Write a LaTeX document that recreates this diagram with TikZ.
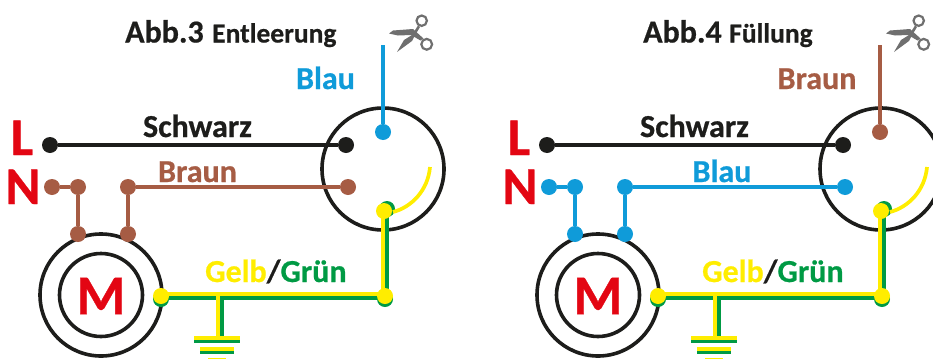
\documentclass[tikz,border=0pt]{standalone}
\usepackage{fontspec}
\setmainfont[BoldFeatures={FakeBold=0.6}]{Carlito}
\definecolor{schwarz}{HTML}{1D1D1B}
\definecolor{rot}{HTML}{E30613}
\definecolor{blau}{HTML}{0F9BD9}
\definecolor{braun}{HTML}{A65C44}
\definecolor{gelb}{HTML}{FFED00}
\definecolor{gruen}{HTML}{009A44}
\definecolor{grau}{HTML}{6F6F6F}
\tikzset{
  kreis/.style={circle,draw=schwarz,line width=3.6pt,inner sep=0pt,minimum size=#1},
  dot/.style={circle,fill=#1,inner sep=0pt,minimum size=16pt},
  wire/.style={draw=#1,line width=3.6pt},
  gg/.style={line width=3.7pt},
  lab/.style={font=\bfseries\fontsize{32}{32}\selectfont,text=#1,inner sep=0pt,anchor=base},
  pol/.style={font=\bfseries\fontsize{53}{53}\selectfont,text=rot,inner sep=0pt,anchor=base},
  ttl/.style={font=\bfseries\fontsize{32}{32}\selectfont,text=schwarz,inner sep=0pt,anchor=base west},
  sub/.style={font=\bfseries\fontsize{27.5}{27.5}\selectfont,text=schwarz,inner sep=0pt,anchor=base west}
}
\newcommand{\schaltung}[2]{%
  \node[kreis=122pt] (sw) at (#2,169) {};
  \node[kreis=122pt] (mot) at (101,295) {};
  \node[kreis=83pt] (rotor) at (101,295) {};
  \node[font=\bfseries\fontsize{56}{56}\selectfont,text=rot,inner sep=0pt] (m) at (101,296) {M};
  \node[pol] (L) at (22,155) {L};
  \node[pol] (N) at (23,204) {N};
  % Schwarz
  \node[dot=schwarz] (s1) at (50,145) {};
  \node[dot=schwarz] (s2) at (346,145) {};
  \draw[wire=schwarz] (s1) -- (s2);
  \node[lab=schwarz] (ls) at (197.5,137) {Schwarz};
  % N wires
  \node[dot=#1] (n1) at (52,187) {};
  \node[dot=#1] (n2) at (78,187) {};
  \node[dot=#1] (n3) at (78,234) {};
  \node[dot=#1] (n4) at (128,187) {};
  \node[dot=#1] (n5) at (128,234) {};
  \node[dot=#1] (n6) at (348,187) {};
  \draw[wire=#1] (n1) -- (n2) -- (n3);
  \draw[wire=#1] (n5) -- (n4) -- (n6);
  % Gelb/Gruen
  \coordinate (ma) at (161,296);
  \coordinate (ra) at (385,296);
  \coordinate (ob) at (385,209);
  \coordinate (ea) at (220,296);
  \coordinate (eb) at (220,336);
  \coordinate (ab) at (430,167);
  \fill[gruen] ([yshift=-3pt]ma) circle (8);
  \fill[gruen] ([yshift=-3pt]ra) circle (8);
  \fill[gruen] ([xshift=2pt]ob) circle (8);
  \draw[gg,gelb] ([yshift=1.9]ma) -- ([yshift=1.9]ra);
  \draw[gg,gruen] ([yshift=-1.9]ma) -- ([yshift=-1.9]ra);
  \draw[gg,gelb] ([xshift=-2]ea) -- ([xshift=-2]eb);
  \draw[gg,gruen] ([xshift=1.9]ea) -- ([xshift=1.9]eb);
  \draw[gg,gelb] ([xshift=-2]ob) -- ([xshift=-2]ra);
  \draw[gg,gruen] ([xshift=2.2]ob) -- ([xshift=2.2]ra);
  \draw[gg,gelb] (ob) ++(8,3) .. controls (412,207) and (428,190) .. (ab);
  \node[dot=gelb] (g1) at (ma) {};
  \node[dot=gelb] (g2) at (ra) {};
  \node[dot=gelb] (g3) at (384,211) {};
  % Erde
  \fill[gelb] (194,336) rectangle (240,340);
  \fill[gruen] (194,340) rectangle (240,343.4);
  \fill[gelb] (200,347) rectangle (234,351);
  \fill[gruen] (200,351) rectangle (234,354.4);
  \fill[gelb] (208,358) rectangle (226,359);
  \node[inner sep=0pt,anchor=base west,font=\bfseries\fontsize{32}{32}\selectfont] (gg) at (205,282) {\textcolor{gelb}{Gelb}\textcolor{schwarz}{/}\textcolor{gruen}{Grün}};
  % Schere
  \begin{scope}
    \draw[grau,line width=2.2pt] (421.7,20.7) circle (5.2);
    \draw[grau,line width=2.2pt] (426.7,44.3) circle (5.4);
    \fill[grau] (389,33.5) -- (393,30.5) -- (413,29) -- (423.5,38.5) -- (420.5,40.5) -- (411,35) -- (398,35.5) -- cycle;
    \fill[grau] (397,52) -- (404,40) -- (412,35) -- (418,25.5) -- (420,27) -- (414,37) -- (412,41) -- cycle;
  \end{scope}
}
\begin{document}
\begin{tikzpicture}[x=1pt,y=-1pt]
  \useasboundingbox (0,0) rectangle (933,359);
  \begin{scope}[name prefix=a-]
    \schaltung{braun}{383}
    \node[dot=blau] (k) at (383,132) {};
    \coordinate (t) at (383,45);
    \draw[wire=blau] (k) -- (t);
    \node[lab=blau] (lk) at (325.5,89) {Blau};
    \node[lab=braun] (ln) at (197.5,182) {Braun};
    \node[ttl] (t1) at (125,42.5) {Abb.3};
    \node[sub] (t2) at (212,42.5) {Entleerung};
  \end{scope}
  \begin{scope}[name prefix=b-,shift={(497,0)}]
    \schaltung{blau}{384}
    \node[dot=braun] (k) at (383,132) {};
    \coordinate (t) at (383,45);
    \draw[wire=braun] (k) -- (t);
    \node[lab=braun] (lk) at (320,89) {Braun};
    \node[lab=blau] (ln) at (225,182) {Blau};
    \node[ttl] (t1) at (146,42.5) {Abb.4};
    \node[sub] (t2) at (232,42.5) {Füllung};
  \end{scope}
\end{tikzpicture}
\end{document}
